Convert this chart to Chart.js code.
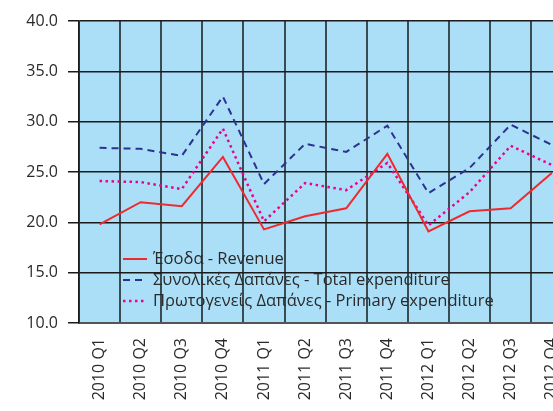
<!DOCTYPE html>
<html>
<head>
<meta charset="utf-8">
<script src="https://cdn.jsdelivr.net/npm/chart.js@4/dist/chart.umd.min.js"></script>
<style>
  html, body { margin: 0; padding: 0; background: #fff; overflow: hidden; }
  #wrap { width: 586px; height: 411px; }
</style>
</head>
<body>
<div id="wrap"><canvas id="chart" width="586" height="411"></canvas></div>
<script>
// quarters
var quarters = ["2010 Q1", "2010 Q2", "2010 Q3", "2010 Q4",
                "2011 Q1", "2011 Q2", "2011 Q3", "2011 Q4",
                "2012 Q1", "2012 Q2", "2012 Q3", "2012 Q4"];

// % of GDP
var revenue  = [19.8, 22.0, 21.6, 26.5, 19.3, 20.6, 21.4, 26.8, 19.1, 21.1, 21.4, 24.9];
var totalExp = [27.4, 27.3, 26.6, 32.5, 23.8, 27.8, 27.0, 29.6, 22.9, 25.4, 29.7, 27.7];
var primExp  = [24.1, 24.0, 23.3, 29.3, 20.1, 23.9, 23.2, 25.9, 19.7, 23.0, 27.6, 25.7];

var yTicks = [10, 15, 20, 25, 30, 35, 40];

var seriesNames = ["Έσοδα - Revenue",
                   "Συνολικές Δαπάνες - Total expenditure",
                   "Πρωτογενείς Δαπάνες - Primary expenditure"];

var FONT = "'Open Sans', sans-serif";

// blue plot background
var plotBg = {
  id: "plotBg",
  beforeDraw: function(chart){
    var a = chart.chartArea, c = chart.ctx;
    c.save();
    c.fillStyle = "#abdff8";
    c.fillRect(a.left, a.top, a.right - a.left, a.bottom - a.top);
    c.restore();
  }
};

// legend drawn inside the plot, lower left
var innerLegend = {
  id: "innerLegend",
  afterDatasetsDraw: function(chart){
    var c = chart.ctx, a = chart.chartArea;
    var x0 = a.left + 44, y0 = 259, step = 21;
    c.save();
    c.font = "16.5px " + FONT;
    c.textBaseline = "middle";
    chart.data.datasets.forEach(function(ds, i){
      var y = y0 + i * step;
      c.strokeStyle = ds.borderColor;
      c.lineWidth = ds.borderWidth;
      c.setLineDash(ds.borderDash || []);
      c.beginPath();
      c.moveTo(x0, y);
      c.lineTo(x0 + 24, y);
      c.stroke();
      c.setLineDash([]);
      c.fillStyle = "#2a2a2a";
      c.fillText(ds.label, x0 + 30, y);
    });
    c.restore();
  }
};

new Chart(document.getElementById("chart"), {
  type: "line",
  data: {
    labels: quarters,
    datasets: [{
      label: seriesNames[0],
      data: revenue,
      borderColor: "#ee2a2e",
      borderWidth: 2,
      pointRadius: 0,
      tension: 0
    }, {
      label: seriesNames[1],
      data: totalExp,
      borderColor: "#2e3192",
      borderWidth: 2,
      borderDash: [7, 5],
      pointRadius: 0,
      tension: 0
    }, {
      label: seriesNames[2],
      data: primExp,
      borderColor: "#ec008c",
      borderWidth: 2.5,
      borderDash: [2.5, 3.5],
      pointRadius: 0,
      tension: 0
    }]
  },
  options: {
    responsive: false,
    animation: false,
    layout: { padding: { top: 21, right: 0, left: 0, bottom: 0 } },
    plugins: {
      legend: { display: false },
      tooltip: { enabled: false }
    },
    scales: {
      x: {
        offset: true,
        grid: { offset: true, color: "#3b4b52", lineWidth: 2, drawTicks: false },
        border: { color: "#555", width: 2 },
        ticks: {
          autoSkip: false,
          minRotation: 90,
          maxRotation: 90,
          padding: 15,
          color: "#2a2a2a",
          font: { family: FONT, size: 16 }
        },
        afterFit: function(s){ s.height = 88; }
      },
      y: {
        min: 10,
        max: 40,
        afterBuildTicks: function(s){ s.ticks = yTicks.map(function(v){ return { value: v }; }); },
        grid: { color: "#1a1a1a", lineWidth: 1.5, tickLength: 11 },
        border: { color: "#1a1a1a", width: 1.5 },
        ticks: {
          padding: 10,
          color: "#2a2a2a",
          font: { family: FONT, size: 16 },
          callback: function(v){ return Number(v).toFixed(1); }
        },
        afterFit: function(s){ s.width = 79; }
      }
    }
  },
  plugins: [plotBg, innerLegend]
});
</script>
</body>
</html>
